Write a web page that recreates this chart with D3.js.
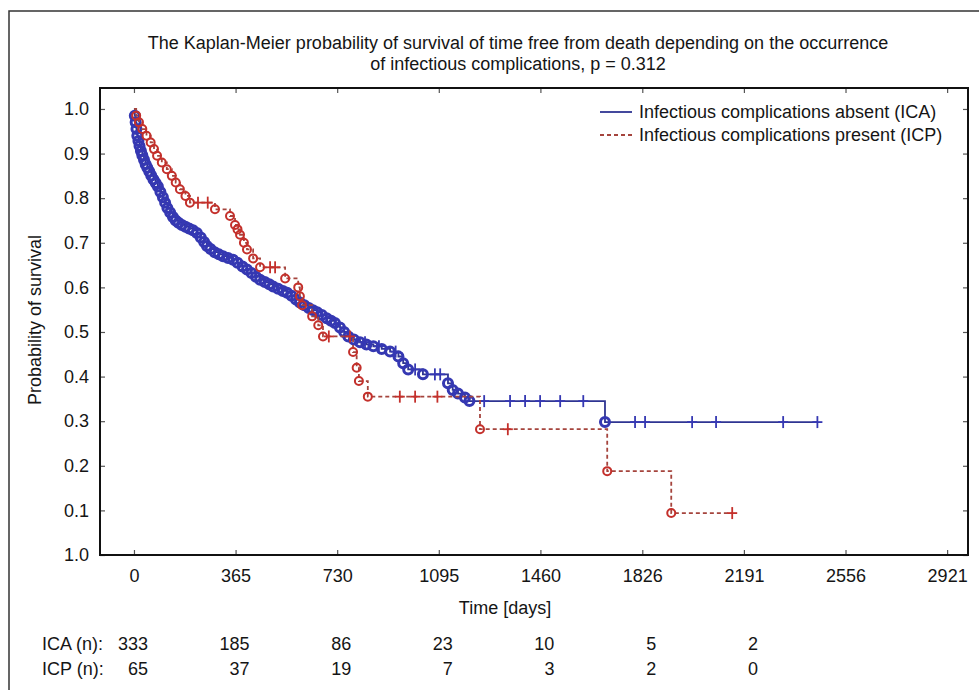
<!DOCTYPE html>
<html>
<head>
<meta charset="utf-8">
<script src="https://cdn.jsdelivr.net/npm/d3@7"></script>
<style>
  body { margin: 0; background: #fff; }
  text { font-family: "Liberation Sans", Arial, Helvetica, sans-serif; fill: #151515; }
</style>
</head>
<body>
<svg id="km" width="979" height="690"></svg>
<script>
// ICA group: event times (days) and survival after each event
const icaTime = [0, 3, 6, 9, 12, 16, 20, 25, 30, 36, 42, 48, 55, 62, 70, 78, 86, 95, 104, 112, 120, 130, 140, 150, 160, 172, 185, 198, 212, 226, 240, 252, 262, 275, 290, 305, 320, 338, 356, 372, 390, 406, 422, 438, 453, 470, 486, 500, 518, 535, 550, 566, 582, 596, 612, 628, 643, 658, 675, 692, 708, 722, 740, 755, 770, 790, 812, 835, 860, 890, 920, 950, 967, 985, 1038, 1128, 1145, 1164, 1189, 1205, 1692];
const icaSurv = [1.0, 0.985, 0.97, 0.955, 0.94, 0.928, 0.917, 0.906, 0.896, 0.886, 0.876, 0.868, 0.86, 0.851, 0.842, 0.834, 0.826, 0.814, 0.802, 0.79, 0.778, 0.768, 0.758, 0.75, 0.745, 0.74, 0.736, 0.732, 0.728, 0.722, 0.712, 0.702, 0.693, 0.686, 0.679, 0.674, 0.67, 0.666, 0.662, 0.655, 0.647, 0.64, 0.632, 0.624, 0.617, 0.612, 0.607, 0.602, 0.597, 0.592, 0.588, 0.581, 0.573, 0.566, 0.56, 0.554, 0.549, 0.544, 0.538, 0.531, 0.525, 0.52, 0.51, 0.5, 0.49, 0.483, 0.477, 0.472, 0.468, 0.462, 0.456, 0.445, 0.43, 0.416, 0.405, 0.385, 0.37, 0.362, 0.353, 0.345, 0.298];
const icaCensor = [830, 880, 940, 1010, 1081, 1100, 1258, 1351, 1405, 1459, 1531, 1614, 1800, 1836, 2005, 2091, 2332, 2455];

// ICP group
const icpTime = [0, 8, 18, 30, 45, 60, 72, 83, 100, 118, 136, 150, 165, 185, 201, 291, 345, 363, 372, 381, 395, 406, 428, 453, 543, 590, 596, 604, 640, 662, 679, 787, 800, 808, 840, 1243, 1700, 1930];
const icpSurv = [1.0, 0.985, 0.97, 0.955, 0.94, 0.925, 0.91, 0.895, 0.88, 0.865, 0.85, 0.835, 0.82, 0.805, 0.79, 0.775, 0.76, 0.74, 0.73, 0.718, 0.7, 0.685, 0.665, 0.645, 0.62, 0.6, 0.58, 0.56, 0.535, 0.515, 0.49, 0.455, 0.42, 0.39, 0.355, 0.282, 0.188, 0.094];
const icpCensor = [230, 265, 489, 507, 700, 776, 955, 1010, 1090, 1343, 2149];

const xTicks = [0, 365, 730, 1095, 1460, 1826, 2191, 2556, 2921];
const yTicks = [0, 0.1, 0.2, 0.3, 0.4, 0.5, 0.6, 0.7, 0.8, 0.9, 1.0];
const yTickLabels = ["1.0", "0.1", "0.2", "0.3", "0.4", "0.5", "0.6", "0.7", "0.8", "0.9", "1.0"];

const riskTimes = [0, 365, 730, 1095, 1460, 1826, 2191];
const icaRisk = [333, 185, 86, 23, 10, 5, 2];
const icpRisk = [65, 37, 19, 7, 3, 2, 0];

const titleLines = ["The Kaplan-Meier probability of survival of time free from death depending on the occurrence",
                    "of infectious complications, p = 0.312"];
const seriesNames = ["Infectious complications absent (ICA)", "Infectious complications present (ICP)"];

const blue = "#2f3592", blueMark = "#3538b2";
const red = "#a5443d", redMark = "#c4302b";

const svg = d3.select("#km");
const plotL = 100, plotR = 968, plotT = 88, plotB = 555;

const x = d3.scaleLinear().domain([-122, 2996]).range([plotL, plotR]);
const y = d3.scaleLinear().domain([0, 1.047]).range([plotB, plotT]);

// outer frame of the figure
svg.append("rect").attr("x", 9).attr("y", 11).attr("width", 990).attr("height", 700)
   .attr("fill", "none").attr("stroke", "#333").attr("stroke-width", 1.5);

// title
svg.append("g").selectAll("text").data(titleLines).enter().append("text")
   .attr("x", 518).attr("y", (d, i) => 49 + i * 21)
   .attr("text-anchor", "middle").attr("font-size", 18).text(d => d);

// axes with inner ticks on all four sides
const gx = svg.append("g").attr("transform", `translate(0,${plotB})`)
  .call(d3.axisBottom(x).tickValues(xTicks).tickSizeInner(-5).tickSizeOuter(0).tickPadding(14).tickFormat(d3.format("d")));
const gxTop = svg.append("g").attr("transform", `translate(0,${plotT})`)
  .call(d3.axisTop(x).tickValues(xTicks).tickSizeInner(-5).tickSizeOuter(0).tickFormat(""));
const gy = svg.append("g").attr("transform", `translate(${plotL},0)`)
  .call(d3.axisLeft(y).tickValues(yTicks).tickSizeInner(-5).tickSizeOuter(0).tickPadding(11)
        .tickFormat((d, i) => yTickLabels[i]));
const gyRight = svg.append("g").attr("transform", `translate(${plotR},0)`)
  .call(d3.axisRight(y).tickValues(yTicks).tickSizeInner(-5).tickSizeOuter(0).tickFormat(""));

[gx, gxTop, gy, gyRight].forEach(g => {
  g.select(".domain").remove();
  g.selectAll(".tick line").attr("stroke", "#555").attr("stroke-width", 1.2);
  g.selectAll("text").attr("font-size", 18).attr("fill", "#151515").attr("font-family", null);
});

svg.append("rect").attr("x", plotL).attr("y", plotT).attr("width", plotR - plotL).attr("height", plotB - plotT)
   .attr("fill", "none").attr("stroke", "#111").attr("stroke-width", 2);

// axis titles
svg.append("text").attr("transform", "translate(41,320) rotate(-90)")
   .attr("text-anchor", "middle").attr("font-size", 18).text("Probability of survival");
svg.append("text").attr("x", 505).attr("y", 614)
   .attr("text-anchor", "middle").attr("font-size", 18).text("Time [days]");

// survival step value at a time (for placing censor marks)
function survAt(times, surv, t) {
  let v = surv[0];
  for (let i = 0; i < times.length; i++) if (times[i] <= t) v = surv[i];
  return v;
}

const step = d3.line().x(d => x(d[0])).y(d => y(d[1])).curve(d3.curveStepAfter);

function drawCurve(times, surv, censor, lineColor, markColor, dash, r, sw) {
  const end = d3.max(censor);
  const pts = times.map((t, i) => [t, surv[i]]);
  pts.push([end, survAt(times, surv, end)]);
  const g = svg.append("g");
  g.append("path").attr("d", step(pts)).attr("fill", "none")
   .attr("stroke", lineColor).attr("stroke-width", 1.8).attr("stroke-dasharray", dash);
  g.selectAll("circle").data(times.slice(1).map((t, i) => [t, surv[i + 1]])).enter().append("circle")
   .attr("cx", d => x(d[0])).attr("cy", d => y(d[1])).attr("r", r)
   .attr("fill", "none").attr("stroke", markColor).attr("stroke-width", sw);
  const cens = g.selectAll("g.cens").data(censor).enter().append("g")
   .attr("transform", t => `translate(${x(t)},${y(survAt(times, surv, t))})`);
  cens.append("line").attr("y1", -6).attr("y2", 6).attr("stroke", markColor).attr("stroke-width", 1.8);
  cens.append("line").attr("x1", -5).attr("x2", 5).attr("stroke", markColor).attr("stroke-width", 1.8);
}

drawCurve(icaTime, icaSurv, icaCensor, blue, blueMark, null, 4.5, 3);
drawCurve(icpTime, icpSurv, icpCensor, red, redMark, "4,3", 4, 2);

// legend
const leg = svg.append("g").selectAll("g").data(seriesNames).enter().append("g")
  .attr("transform", (d, i) => `translate(600,${112 + i * 23})`);
leg.append("line").attr("x1", 0).attr("x2", 32)
   .attr("stroke", (d, i) => i === 0 ? blue : red).attr("stroke-width", 1.8)
   .attr("stroke-dasharray", (d, i) => i === 0 ? null : "4,3");
leg.append("text").attr("x", 39).attr("y", 6).attr("font-size", 18).text(d => d);

// numbers at risk
const rows = [["ICA (n):", icaRisk], ["ICP (n):", icpRisk]];
rows.forEach((row, r) => {
  const yy = 650 + r * 25;
  svg.append("text").attr("x", 42).attr("y", yy).attr("font-size", 18).text(row[0]);
  svg.append("g").selectAll("text").data(row[1]).enter().append("text")
     .attr("x", (d, i) => x(riskTimes[i]) + 14).attr("y", yy)
     .attr("text-anchor", "end").attr("font-size", 18).text(d => d);
});
</script>
</body>
</html>
